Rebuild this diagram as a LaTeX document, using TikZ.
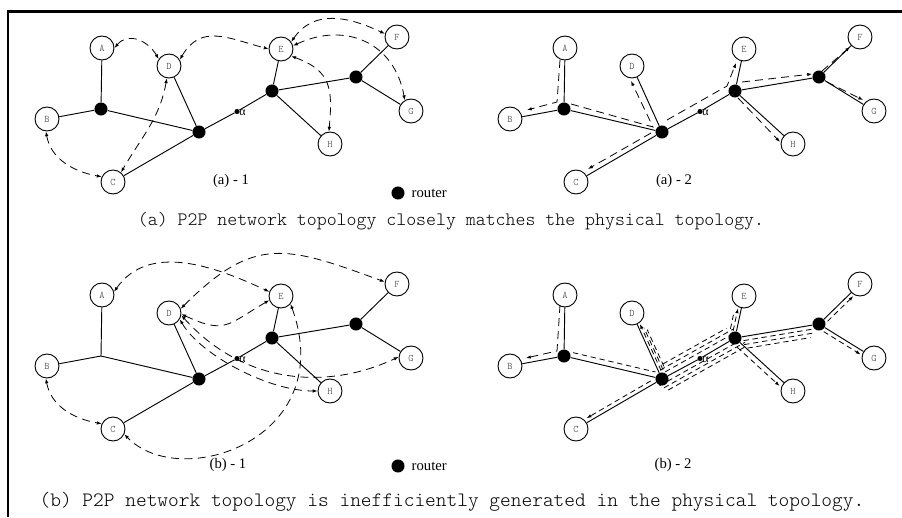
\documentclass[tikz,border=0pt]{standalone}
\usepackage{fontspec}
\setmainfont{Liberation Serif}
\newfontfamily\courf{Latin Modern Mono Light}
\usetikzlibrary{calc,arrows.meta}
\tikzset{
  peer/.style={circle,draw,line width=0.7pt,minimum size=18pt,inner sep=0pt,
    font=\courf\fontsize{7.5}{7.5}\selectfont,text=black!80},
  router/.style={circle,fill=black,minimum size=9.8pt,inner sep=0pt},
  adot/.style={circle,fill=black,minimum size=3.8pt,inner sep=0pt},
  phys/.style={line width=0.7pt},
  tip/.tip={Latex[length=3.6pt,width=2.6pt]},
  lnk/.style={line width=0.6pt,dash pattern=on 6pt off 4pt,tip-tip},
  route/.style={line width=0.6pt,dash pattern=on 6pt off 3.8pt,-tip},
  broute/.style={line width=0.6pt,dash pattern=on 4pt off 2.8pt,-tip},
  bdash/.style={line width=0.6pt,dash pattern=on 4pt off 2.8pt},
  plabel/.style={font=\fontsize{11}{11}\selectfont},
}
\newcommand{\topo}[4]{%
\begin{scope}[shift={(#2,#3)}]
  \node[peer] (#1A) at (102,48) {A};
  \node[peer] (#1B) at (47,119) {B};
  \node[peer] (#1C) at (113,182) {C};
  \node[peer] (#1D) at (169,66) {D};
  \node[peer] (#1E) at (281,49) {E};
  \node[peer] (#1F) at (397,37) {F};
  \node[peer] (#1G) at (411,111) {G};
  \node[peer] (#1H) at (330,144) {H};
  \node[#4] (#1R1) at (101,109) {};
  \node[router] (#1R2) at (199,132) {};
  \node[router] (#1R3) at (272,91) {};
  \node[router] (#1R4) at (356,77) {};
  \node[adot] (#1al) at (237,111.5) {};
  \node[anchor=west,inner sep=0.5pt,font=\fontsize{9}{9}\selectfont] (#1alt) at (238.5,112.5) {α};
  \draw[phys] (#1A) -- (#1R1) -- (#1B);
  \draw[phys] (#1R1) -- (#1R2) -- (#1C);
  \draw[phys] (#1D) -- (#1R2) -- (#1al) -- (#1R3) -- (#1E);
  \draw[phys] (#1R3) -- (#1H);
  \draw[phys] (#1R3) -- (#1R4) -- (#1F);
  \draw[phys] (#1R4) -- (#1G);
\end{scope}}
\newcommand{\pseg}[4][]{\draw[#1] ($(#2)!#4!90:(#3)$) -- ($(#3)!#4!-90:(#2)$);}
\begin{document}
\begin{tikzpicture}[x=0.75pt,y=-0.75pt]
\useasboundingbox (0,0) rectangle (902,517);
\draw[line width=2pt] (8,517) -- (8,11.3) -- (902,11.3);

% ---------- (a)-1
\topo{a1}{0}{0}{router}
\draw[lnk] (a1A.0) to[out=50,in=120,looseness=1.2] (a1D.146);
\draw[lnk] (a1D.30) to[out=60,in=165,looseness=1.2] (a1E.180);
\draw[lnk] (a1E.35) to[out=55,in=155,looseness=1.1] (a1F.165);
\draw[lnk] (a1E.15) to[out=25,in=100,looseness=1.2] (a1G.120);
\draw[lnk] (a1E.-35) to[out=-20,in=85,looseness=1.3] (a1H.95);
\draw[lnk] (a1D.-100) to[out=-100,in=60] (a1C.50);
\draw[lnk] (a1B.-95) to[out=-80,in=170] (a1C.155);
\node[plabel] (la1) at (231,181) {(a) - 1};

% ---------- (a)-2
\topo{a2}{463}{0}{router}
\draw[route] ($(a2A)+(-5,12)$) -- ($(a2R1)+(-7,-7)$) -- ($(a2B)+(17,-9)$);
\draw[route] ($(a2R1)+(7,-5)$) -- ($(a2R2)+(-9,-5)$) -- ($(a2D)+(-1,15)$);
\draw[route] ($(a2R2)+(-11,1)$) -- ($(a2C)+(12,-13)$);
\draw[route] ($(a2R2)+(5,-12)$) -- ($(a2R3)+(-8,-5)$) -- ($(a2E)+(-8,14)$);
\draw[route] ($(a2R3)+(7,-9)$) -- ($(a2R4)+(-7,-3)$);
\draw[route] ($(a2R4)+(3,-6)$) -- ($(a2F)+(-10,10)$);
\draw[route] ($(a2R4)+(8,5)$) -- ($(a2G)+(-11,-11)$);
\draw[route] ($(a2R3)+(3,7)$) -- ($(a2H)+(-13,-2)$);
\node[plabel] (la2) at (674,181) {(a) - 2};

\node[router] (lga) at (398,193) {};
\node[anchor=west,plabel] (lgat) at (407,193) {router};
\node[font=\courf\fontsize{14.2}{14.2}\selectfont] (capa) at (451,221) {(a) P2P network topology closely matches the physical topology.};

% ---------- (b)-1
\topo{b1}{0}{247}{coordinate}
\draw[lnk] (b1A.15) to[out=55,in=155] (b1E.160);
\draw[lnk] (b1D.20) to[out=45,in=160,looseness=1.3] (b1F.170);
\draw[lnk] (b1D.-5) to[out=-25,in=210,looseness=1.4] (b1E.200);
\draw[lnk] (b1D.-10) .. controls +(60,67) and +(-75,35) .. (b1G.175);
\draw[lnk] (b1D.-30) .. controls +(20,35) and +(-50,0) .. (b1H.180);
\draw[lnk] (b1E.-40) .. controls +(49,135) and +(56,58) .. (b1C.-25);
\draw[lnk] (b1B.-95) to[out=-80,in=170] (b1C.155);
\node[plabel] (lb1) at (228,465) {(b) - 1};

% ---------- (b)-2
\topo{b2}{463}{247}{router}
\draw[route] ($(b2A)+(-5,10)$) -- ($(b2R1)+(-7,-5)$) -- ($(b2B)+(16,-8)$);
\pseg[bdash,shorten <=6pt,shorten >=6pt]{b2R1}{b2R2}{4pt}
\pseg[broute,shorten <=6pt,shorten >=10pt]{b2R2}{b2D}{-2pt}
\pseg[bdash,shorten <=6pt,shorten >=14pt]{b2R2}{b2D}{-3.6pt}
\pseg[bdash,shorten <=8pt,shorten >=16pt]{b2R2}{b2D}{-5.2pt}
\pseg[broute,shorten <=8pt,shorten >=11pt]{b2R2}{b2C}{-3pt}
\pseg[bdash,shorten <=-2pt,shorten >=0pt]{b2R2}{b2R3}{3.5pt}
\pseg[bdash,shorten <=2pt,shorten >=-2pt]{b2R2}{b2R3}{6.5pt}
\pseg[bdash,shorten <=6pt,shorten >=2pt]{b2R2}{b2R3}{9.5pt}
\pseg[bdash,shorten <=-4pt,shorten >=-3pt]{b2R2}{b2R3}{-3.5pt}
\pseg[bdash,shorten <=-2pt,shorten >=-5pt]{b2R2}{b2R3}{-6.5pt}
\pseg[bdash,shorten <=0pt,shorten >=-4pt]{b2R2}{b2R3}{-9.5pt}
\pseg[broute,shorten <=5pt,shorten >=10pt]{b2R3}{b2E}{2.5pt}
\pseg[bdash,shorten <=6pt,shorten >=14pt]{b2R3}{b2E}{4.8pt}
\pseg[bdash,shorten <=6pt,shorten >=6pt]{b2R3}{b2R4}{-3pt}
\pseg[bdash,shorten <=6pt,shorten >=6pt]{b2R3}{b2R4}{-6pt}
\pseg[bdash,shorten <=8pt,shorten >=8pt]{b2R3}{b2R4}{-9pt}
\pseg[broute,shorten <=6pt,shorten >=10pt]{b2R4}{b2F}{-3pt}
\pseg[broute,shorten <=6pt,shorten >=10pt]{b2R4}{b2G}{-3pt}
\pseg[broute,shorten <=6pt,shorten >=10pt]{b2R3}{b2H}{-4pt}
\node[plabel] (lb2) at (673,465) {(b) - 2};

\node[router] (lgb) at (398,466) {};
\node[anchor=west,plabel] (lgbt) at (407,466) {router};
\node[font=\courf\fontsize{15.3}{15.3}\selectfont] (capb) at (452,502) {(b) P2P network topology is inefficiently generated in the physical topology.};
\end{tikzpicture}
\end{document}
